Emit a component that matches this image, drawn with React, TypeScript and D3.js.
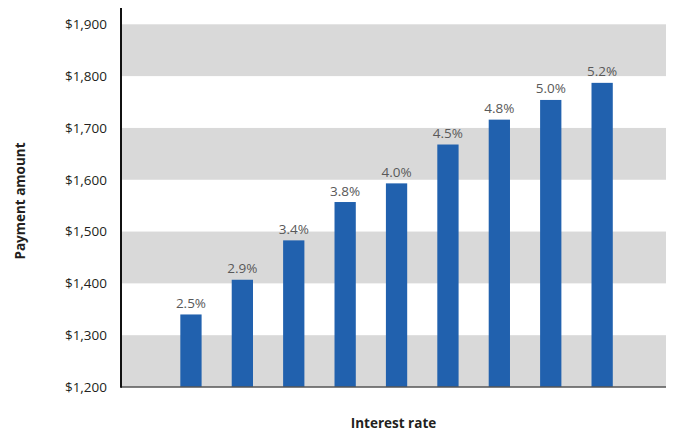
import React from "react";
import * as d3 from "d3";

const rates = ["2.5%", "2.9%", "3.4%", "3.8%", "4.0%", "4.5%", "4.8%", "5.0%", "5.2%"];
const payments = [1340, 1407, 1483, 1557, 1593, 1668, 1716, 1754, 1787];
const yTicks = [1200, 1300, 1400, 1500, 1600, 1700, 1800, 1900];
const bands = [[1200, 1300], [1400, 1500], [1600, 1700], [1800, 1900]];

const W = 686;
const H = 433;
const plotLeft = 121;
const plotRight = 666;
const plotBottom = 387;
const plotTopAxis = 8;

export default function App() {
  const y = d3.scaleLinear().domain([1200, 1900]).range([plotBottom, 24.3]);
  const x = d3
    .scaleBand<string>()
    .domain(rates)
    .range([150.2, 642.9])
    .paddingInner(0.586)
    .paddingOuter(0.586);
  const fmt = (v: number) => "$" + d3.format(",")(v);
  const font = "'Open Sans', 'Noto Sans', sans-serif";

  return (
    <svg
      width={W}
      height={H}
      style={{ position: "absolute", left: 0, top: 0, background: "#fff" }}
      fontFamily={font}
    >
      {bands.map(([a, b], i) => (
        <rect
          key={i}
          x={plotLeft}
          y={y(b)}
          width={plotRight - plotLeft}
          height={y(a) - y(b)}
          fill="#d9d9d9"
        />
      ))}
      {payments.map((v, i) => (
        <g key={i}>
          <rect
            x={x(rates[i])}
            y={y(v)}
            width={x.bandwidth()}
            height={plotBottom - y(v)}
            fill="#2161ae"
          />
          <text
            x={(x(rates[i]) as number) + x.bandwidth() / 2}
            y={y(v) - 6.5}
            textAnchor="middle"
            fontSize={13.5}
            fill="#595959"
          >
            {rates[i]}
          </text>
        </g>
      ))}
      {yTicks.map((t) => (
        <text
          key={t}
          x={107}
          y={y(t)}
          dy="0.36em"
          textAnchor="end"
          fontSize={13.5}
          fill="#231f20"
        >
          {fmt(t)}
        </text>
      ))}
      <line x1={plotLeft} x2={plotRight} y1={plotBottom} y2={plotBottom} stroke="#555" strokeWidth={1.5} />
      <line x1={plotLeft} x2={plotLeft} y1={plotTopAxis} y2={plotBottom + 0.75} stroke="#111" strokeWidth={2} />
      <text
        transform={`translate(25,201) rotate(-90)`}
        textAnchor="middle"
        fontSize={13.5}
        fontWeight="bold"
        fill="#231f20"
      >
        Payment amount
      </text>
      <text x={393.5} y={428} textAnchor="middle" fontSize={13.5} fontWeight="bold" fill="#231f20">
        Interest rate
      </text>
    </svg>
  );
}
